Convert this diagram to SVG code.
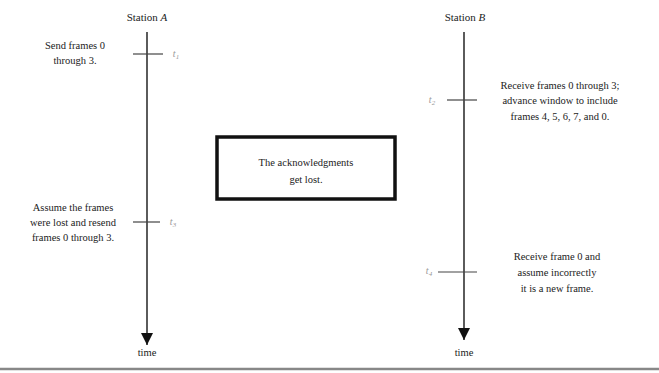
<svg xmlns="http://www.w3.org/2000/svg" width="659" height="373" viewBox="0 0 659 373">
<style>
text{font-family:"Liberation Serif","Times New Roman",serif;font-size:10.5px;fill:#222;text-anchor:middle}
.lbl{font-size:11px}
.t{font-style:italic;fill:#999;font-size:10px}
.axis{stroke:#333;stroke-width:1.6;fill:none}
.tick{stroke:#444;stroke-width:1.2}
</style>
<defs>
<marker id="ah" viewBox="0 0 10 10" refX="9" refY="5" markerWidth="7" markerHeight="9" markerUnits="userSpaceOnUse" orient="auto">
<path d="M0,0 L10,5 L0,10 z" fill="#111"/>
</marker>
<marker id="ah2" viewBox="0 0 10 10" refX="10" refY="5" markerUnits="userSpaceOnUse" markerWidth="18" markerHeight="12" orient="auto">
<path d="M0,0 L10,5 L0,10 z" fill="#111"/>
</marker>
</defs>
<rect width="659" height="373" fill="#fff"/>
<g id="connectors">
<line class="axis" x1="147" y1="32" x2="147" y2="345" marker-end="url(#ah2)"/>
<line class="axis" x1="464" y1="32" x2="464" y2="340" marker-end="url(#ah2)"/>
</g>
<g id="stationA">
<text class="lbl" x="147" y="21">Station <tspan font-style="italic">A</tspan></text>
<text x="147" y="356">time</text>
</g>
<g id="stationB">
<text class="lbl" x="465" y="21">Station <tspan font-style="italic">B</tspan></text>
<text x="464" y="356">time</text>
</g>
<g id="eventA1">
<line class="tick" x1="133" y1="54" x2="163" y2="54"/>
<text class="t" x="176" y="57">t<tspan font-size="7" dy="2">1</tspan></text>
<text x="75" y="49">Send frames 0</text>
<text x="75" y="64">through 3.</text>
</g>
<g id="eventA3">
<line class="tick" x1="133" y1="222" x2="160" y2="222"/>
<text class="t" x="173" y="225">t<tspan font-size="7" dy="2">3</tspan></text>
<text x="73" y="211">Assume the frames</text>
<text x="73" y="226">were lost and resend</text>
<text x="73" y="241">frames 0 through 3.</text>
</g>
<g id="eventB2">
<line class="tick" x1="447" y1="100" x2="477" y2="100"/>
<text class="t" x="432" y="103">t<tspan font-size="7" dy="2">2</tspan></text>
<text x="560" y="89">Receive frames 0 through 3;</text>
<text x="560" y="104">advance window to include</text>
<text x="560" y="120">frames 4, 5, 6, 7, and 0.</text>
</g>
<g id="eventB4">
<line class="tick" x1="438" y1="272" x2="477" y2="272"/>
<text class="t" x="429" y="274">t<tspan font-size="7" dy="2">4</tspan></text>
<text x="557" y="260">Receive frame 0 and</text>
<text x="557" y="276">assume incorrectly</text>
<text x="557" y="292">it is a new frame.</text>
</g>
<g id="lostBox">
<rect x="217" y="137" width="178" height="62" fill="#fff" stroke="#111" stroke-width="3.5"/>
<text x="306" y="166">The acknowledgments</text>
<text x="306" y="183">get lost.</text>
</g>
<line x1="0" y1="369" x2="659" y2="369" stroke="#888" stroke-width="2.5"/>
</svg>
